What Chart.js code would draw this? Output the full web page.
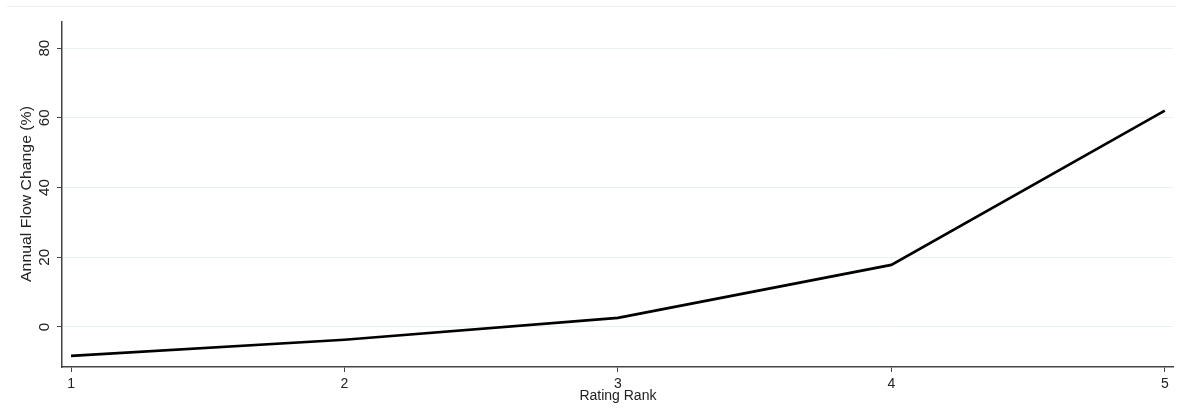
<!DOCTYPE html>
<html>
<head>
<meta charset="utf-8">
<script src="https://cdn.jsdelivr.net/npm/chart.js@4/dist/chart.umd.min.js"></script>
<style>
  html, body { margin: 0; padding: 0; background: #fff; }
  #wrap { width: 1182px; height: 419px; }
</style>
</head>
<body>
<div id="wrap"><canvas id="linechart1"></canvas></div>
<script>
// data
const ratingRank = [1, 2, 3, 4, 5];
const flowChange = [-8.3, -3.7, 2.6, 17.8, 62.1];
const yTicks = [0, 20, 40, 60, 80];

const FONT = '"Liberation Sans", Arial, sans-serif';

// draws the rotated y labels, axis titles and the faint top frame line
const labelsPlugin = {
  id: 'labelsPlugin',
  afterDraw(chart) {
    const ctx = chart.ctx;
    const y = chart.scales.y;
    ctx.save();
    ctx.strokeStyle = '#eef1f3';
    ctx.lineWidth = 1;
    ctx.beginPath();
    ctx.moveTo(7, 6.5);
    ctx.lineTo(1176, 6.5);
    ctx.stroke();

    ctx.fillStyle = '#222';
    ctx.font = '14px ' + FONT;
    ctx.textAlign = 'center';
    ctx.textBaseline = 'alphabetic';
    yTicks.forEach(v => {
      ctx.save();
      ctx.translate(49, y.getPixelForValue(v));
      ctx.rotate(-Math.PI / 2);
      ctx.scale(1.08, 1);
      ctx.fillText(String(v), 0, 0);
      ctx.restore();
    });

    // y title, a bit stretched like the original
    ctx.save();
    ctx.translate(31, 194);
    ctx.rotate(-Math.PI / 2);
    ctx.scale(1.13, 1);
    ctx.fillText('Annual Flow Change (%)', 0, 0);
    ctx.restore();

    ctx.fillText('Rating Rank', chart.scales.x.getPixelForValue(3), 400);
    ctx.restore();
  }
};

new Chart(
  document.getElementById('linechart1'),
  {
    type: 'line',
    data: {
      datasets: [{
        data: ratingRank.map((r, i) => ({ x: r, y: flowChange[i] })),
        borderColor: '#000',
        borderWidth: 2.6,
        pointRadius: 0,
        tension: 0,
        fill: false
      }]
    },
    options: {
      responsive: true,
      maintainAspectRatio: false,
      animation: false,
      layout: { padding: { top: 22, right: 9, left: 0, bottom: 0 } },
      plugins: { legend: { display: false }, tooltip: { enabled: false } },
      scales: {
        x: {
          type: 'linear',
          min: 0.967,
          max: 5.03,
          afterBuildTicks: scale => { scale.ticks = ratingRank.map(v => ({ value: v })); },
          afterFit: scale => { scale.height = 52; },
          grid: { drawOnChartArea: false, tickLength: 5, tickColor: '#444' },
          border: { display: true, color: '#444', width: 1.5 },
          ticks: {
            padding: 4,
            color: '#222',
            font: { family: FONT, size: 14 }
          }
        },
        y: {
          min: -11.5,
          max: 87.5,
          afterBuildTicks: scale => { scale.ticks = yTicks.map(v => ({ value: v })); },
          afterFit: scale => { scale.width = 62; },
          grid: { color: '#eaf1f3', tickLength: 5, tickColor: '#444' },
          border: { display: true, color: '#444', width: 1.5 },
          ticks: { display: false }
        }
      }
    },
    plugins: [labelsPlugin]
  }
);
</script>
</body>
</html>
